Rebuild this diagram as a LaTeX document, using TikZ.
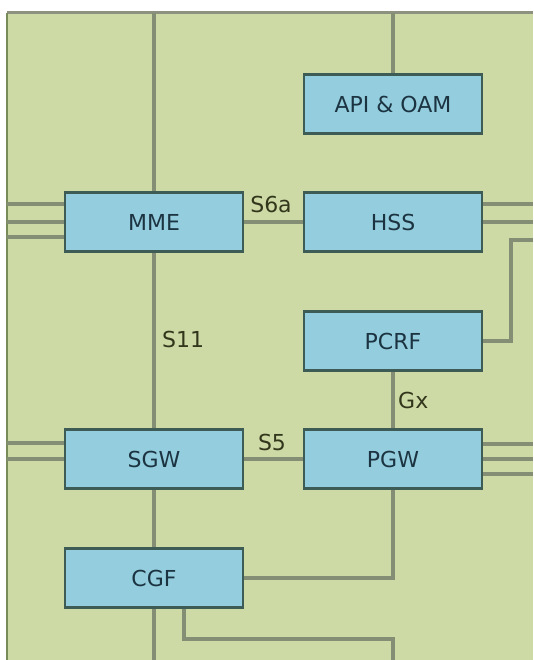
\documentclass[tikz,border=0pt]{standalone}
\usepackage{fontspec}
\setmainfont{DejaVu Sans}
\usetikzlibrary{backgrounds}
\definecolor{bg}{RGB}{205,218,166}
\definecolor{boxfill}{RGB}{148,206,222}
\definecolor{boxline}{RGB}{62,92,86}
\definecolor{wirec}{RGB}{132,142,116}
\definecolor{txt}{RGB}{28,52,66}
\definecolor{lblc}{RGB}{50,55,28}
\definecolor{framec}{RGB}{140,145,128}
\definecolor{leftc}{RGB}{120,140,90}
\begin{document}
\begin{tikzpicture}[x=1pt,y=-1pt,
  box/.style={draw=boxline,line width=2.8pt,fill=boxfill,minimum width=178pt,minimum height=59pt,inner sep=0pt,font=\fontsize{22}{22}\selectfont,text=txt},
  wire/.style={draw=wirec,line width=3.5pt},
  lbl/.style={font=\fontsize{22}{22}\selectfont,text=lblc,inner sep=0pt}]
\useasboundingbox (0,0) rectangle (533,660);
% boxes
\node[box] (api) at (393,104) {API \& OAM};
\node[box] (mme) at (154,222) {MME};
\node[box] (hss) at (393,222) {HSS};
\node[box] (pcrf) at (393,341) {PCRF};
\node[box] (sgw) at (154,459) {SGW};
\node[box] (pgw) at (393,459) {PGW};
\node[box] (cgf) at (154,578) {CGF};
% labels
\node[lbl] (s6a) at (271,204) {S6a};
\node[lbl,anchor=west] (s11) at (162,339) {S11};
\node[lbl,anchor=west] (gx) at (398,400) {Gx};
\node[lbl] (s5) at (272,442) {S5};
% free ends
\coordinate (t1) at (154,13);
\coordinate (t2) at (393,13);
\coordinate (b1) at (154,660);
\coordinate (b2) at (393,660);
\coordinate (hr) at (533,240);
\coordinate (hturn) at (511,240);
\begin{scope}[on background layer]
  \fill[white] (0,0) rectangle (533,660);
  \fill[bg] (7,13) rectangle (533,660);
  \draw[framec,line width=3pt] (7,13) -- (533,13);
  \draw[leftc,line width=1.5pt] (7,13) -- (7,660);
  \draw[wire] (t1) -- (mme.north);
  \draw[wire] (t2) -- (api.north);
  \draw[wire] (mme.east) -- (hss.west);
  \draw[wire] (mme.south) -- (sgw.north);
  \draw[wire] (sgw.south) -- (cgf.north);
  \draw[wire] (cgf.south) -- (b1);
  \draw[wire] (pcrf.south) -- (pgw.north);
  \draw[wire] (sgw.east) -- (pgw.west);
  \draw[wire] (pgw.south) |- (cgf.east);
  \draw[wire] ([xshift=30pt]cgf.south) -- ++(0,30) -| (b2);
  \draw[wire] (hr) -- (hturn) |- (pcrf.east);
  \foreach \yy in {204,222,237} \draw[wire] (7,\yy) -- (mme.west |- 7,\yy);
  \foreach \yy in {204,222} \draw[wire] (hss.east |- 533,\yy) -- (533,\yy);
  \foreach \yy in {443,459} \draw[wire] (7,\yy) -- (sgw.west |- 7,\yy);
  \foreach \yy in {444,459,474} \draw[wire] (pgw.east |- 533,\yy) -- (533,\yy);
\end{scope}
\end{tikzpicture}
\end{document}
